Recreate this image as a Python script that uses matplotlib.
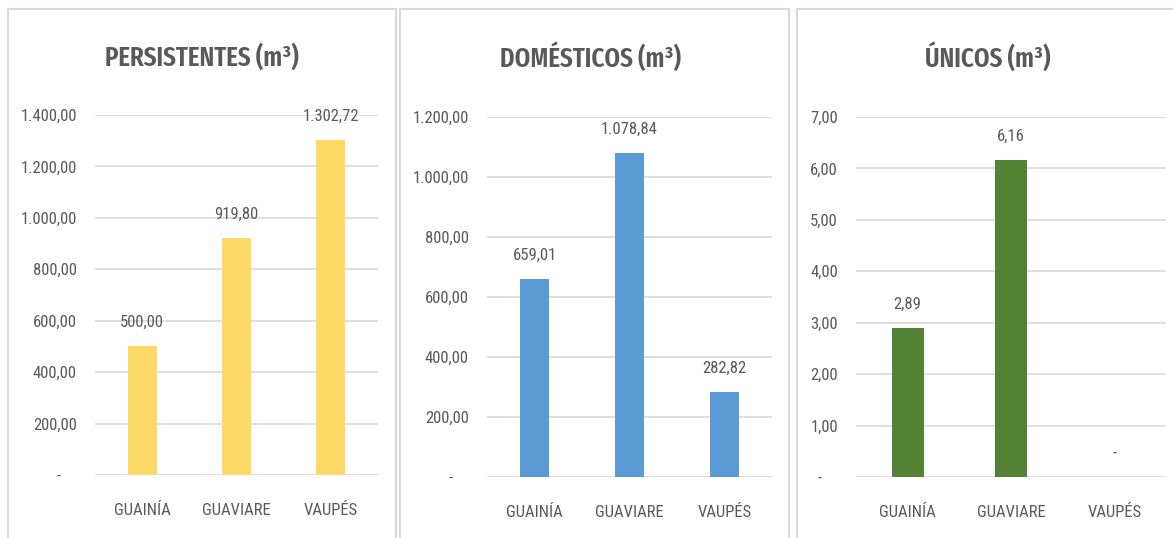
import matplotlib
matplotlib.use("Agg")
import matplotlib.pyplot as plt
from matplotlib.patches import Rectangle
from matplotlib.ticker import FuncFormatter

categories = ["GUAINÍA", "GUAVIARE", "VAUPÉS"]
persistentes = [500.00, 919.80, 1302.72]
domesticos = [659.01, 1078.84, 282.82]
unicos = [2.89, 6.16, 0.0]
titles = ["PERSISTENTES (m³)", "DOMÉSTICOS (m³)", "ÚNICOS (m³)"]

fam = "Roboto Condensed"
title_fam = "Fira Sans Extra Condensed"
plt.rcParams["font.family"] = [fam, "DejaVu Sans"]

W, H = 1173, 538
fig = plt.figure(figsize=(W / 100, H / 100), dpi=100)
TXT = "#595959"
GRID = "#D9D9D9"


def fmt_es(v):
    if abs(v) < 1e-9:
        return "-"
    s = f"{v:,.2f}"
    return s.replace(",", "X").replace(".", ",").replace("X", ".")


def tick_fmt(v, pos):
    s = fmt_es(v)
    return s + "    " if s == "-" else s


def px_axes(x0, y0, x1, y1):
    return fig.add_axes([x0 / W, 1 - y1 / H, (x1 - x0) / W, (y1 - y0) / H])


panels = [
    dict(border=(8, 9, 396, 545), ax=(95, 115, 378, 475), data=persistentes,
         ymax=1400, step=200, color="#FFD966", title_x=202),
    dict(border=(400, 9, 789, 545), ax=(487, 117, 772, 477), data=domesticos,
         ymax=1200, step=200, color="#5B9BD5", title_x=591),
    dict(border=(797, 9, 1180, 545), ax=(856, 117, 1166, 477), data=unicos,
         ymax=7, step=1, color="#548235", title_x=988),
]

for p, title in zip(panels, titles):
    bx0, by0, bx1, by1 = p["border"]
    fig.patches.append(Rectangle((bx0 / W, 1 - by1 / H), (bx1 - bx0) / W, (by1 - by0) / H,
                                 transform=fig.transFigure, fill=False,
                                 edgecolor=GRID, linewidth=1.5))
    ax = px_axes(*p["ax"])
    x = range(len(categories))
    ax.bar(x, p["data"], width=0.31, color=p["color"], zorder=3)
    ax.set_ylim(0, p["ymax"])
    ax.set_xlim(-0.5, len(categories) - 0.5)
    ticks = [i * p["step"] for i in range(int(round(p["ymax"] / p["step"])) + 1)]
    ax.set_yticks(ticks)
    ax.yaxis.set_major_formatter(FuncFormatter(tick_fmt))
    ax.set_xticks(list(x))
    ax.set_xticklabels(categories)
    ax.tick_params(axis="both", length=0, colors=TXT, labelsize=12)
    ax.tick_params(axis="y", pad=13)
    ax.tick_params(axis="x", pad=20)
    ax.grid(axis="y", color=GRID, linewidth=1.2, zorder=0)
    for s in ax.spines.values():
        s.set_visible(False)
    ax.set_facecolor("none")
    for i, v in enumerate(p["data"]):
        ax.annotate(fmt_es(v), (i, v), xytext=(0, 12), textcoords="offset points",
                    ha="center", va="bottom", color=TXT, fontsize=12)
    fig.text(p["title_x"] / W, 1 - 57 / H, title, ha="center", va="center",
             color=TXT, fontsize=19.5, fontweight="semibold",
             family=[title_fam, fam, "DejaVu Sans"])

fig.savefig("out.png", dpi=100, facecolor="white")
